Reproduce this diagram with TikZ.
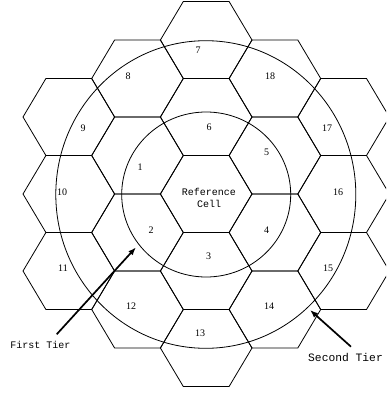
\documentclass[tikz,border=0pt]{standalone}
\usepackage{fontspec}
\setmainfont{Liberation Serif}
\setmonofont{Liberation Mono}
\usetikzlibrary{arrows.meta}
\def\ha{45.8}
\def\hb{38.5}
\tikzset{
  hexline/.style={draw=black, line width=0.8pt, line join=miter},
  tierline/.style={draw=black, line width=0.8pt},
  numlabel/.style={font=\fontsize{10}{10}\selectfont, inner sep=0pt},
  tierarrow/.style={line width=1.7pt, -{Latex[length=8pt,width=6pt]}},
}
\newcommand\cellhex[1]{\draw[hexline, shift={(#1)}] (\ha,0) -- (\ha/2,\hb) -- (-\ha/2,\hb) -- (-\ha,0) -- (-\ha/2,-\hb) -- (\ha/2,-\hb) -- cycle;}
\begin{document}
\begin{tikzpicture}[x=1pt,y=-1pt]
\useasboundingbox[fill=white] (0,0) rectangle (386,396);
\clip (0,0) rectangle (386,396);
% cell centres
\coordinate (c0) at (206.2,194);
\coordinate (c6) at (206.2,117);
\coordinate (c5) at (274.9,155.5);
\coordinate (c4) at (274.9,232.5);
\coordinate (c3) at (206.2,271);
\coordinate (c2) at (137.5,232.5);
\coordinate (c1) at (137.5,155.5);
\coordinate (c7) at (206.2,40);
\coordinate (c18) at (274.9,78.5);
\coordinate (c17) at (343.6,117);
\coordinate (c16) at (343.6,194);
\coordinate (c15) at (343.6,271);
\coordinate (c14) at (274.9,309.5);
\coordinate (c13) at (206.2,348);
\coordinate (c12) at (137.5,309.5);
\coordinate (c11) at (68.8,271);
\coordinate (c10) at (68.8,194);
\coordinate (c9) at (68.8,117);
\coordinate (c8) at (137.5,78.5);
\foreach \c in {c0,c1,c2,c3,c4,c5,c6,c7,c8,c9,c10,c11,c12,c13,c14,c15,c16,c17,c18}{\cellhex{\c}}
% tier circles
\draw[tierline] (206.2,194.5) ellipse [x radius=84.5, y radius=82.5];
\draw[tierline] (205.8,194.5) ellipse [x radius=150, y radius=153.8];
% labels
\node[align=center, font=\ttfamily\fontsize{10}{12}\selectfont, inner sep=0pt] (ref) at (209,198) {Reference\\Cell};
\node[numlabel] (l1) at (140,166.7) {1};
\node[numlabel] (l2) at (151,230) {2};
\node[numlabel] (l3) at (208.7,256) {3};
\node[numlabel] (l4) at (266.7,230) {4};
\node[numlabel] (l5) at (266.7,152.7) {5};
\node[numlabel] (l6) at (209,127.7) {6};
\node[numlabel] (l7) at (198,50) {7};
\node[numlabel] (l8) at (128,76) {8};
\node[numlabel] (l9) at (83,128) {9};
\node[numlabel] (l10) at (62,192) {10};
\node[numlabel] (l11) at (63,268) {11};
\node[numlabel] (l12) at (131,306) {12};
\node[numlabel] (l13) at (200,333) {13};
\node[numlabel] (l14) at (269,306) {14};
\node[numlabel] (l15) at (328,268) {15};
\node[numlabel] (l16) at (338,192) {16};
\node[numlabel] (l17) at (327,128) {17};
\node[numlabel] (l18) at (270,76) {18};
% tier annotations
\node[font=\ttfamily\fontsize{10}{10}\selectfont, inner sep=0pt] (ft) at (40.5,345) {First Tier};
\node[font=\ttfamily\fontsize{11.3}{12}\selectfont, inner sep=0pt, anchor=west] (st) at (308,357.5) {Second Tier};
\coordinate (ftA) at (56.7,334.3);
\coordinate (ftB) at (136,247.3);
\coordinate (stA) at (351,346.7);
\coordinate (stB) at (310,310);
\draw[tierarrow] (ftA) -- (ftB);
\draw[tierarrow] (stA) -- (stB);
\end{tikzpicture}
\end{document}
